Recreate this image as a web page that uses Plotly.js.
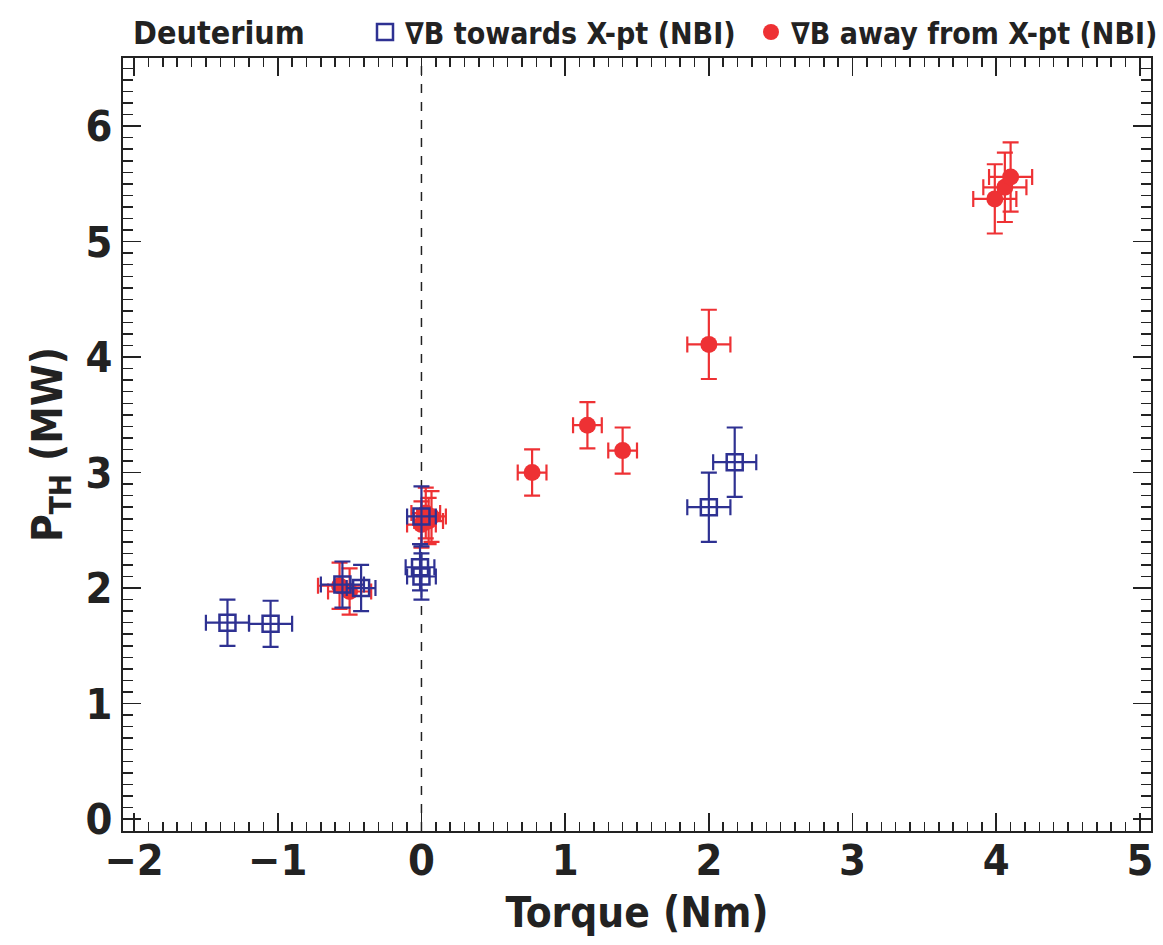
<!DOCTYPE html>
<html>
<head>
<meta charset="utf-8">
<script src="https://cdn.plot.ly/plotly-3.0.1.min.js"></script>
<style>html,body{margin:0;padding:0;background:#fff;}#chart{width:1163px;height:945px;}</style>
</head>
<body>
<div id="chart"></div>
<script>
// Data
const towardsName = "\u2207B towards X-pt (NBI)";
const towardsTorque = [-1.35, -1.05, -0.55, -0.42, 0.0, -0.01, 0.0, 2.0, 2.18];
const towardsTorqueErr = [0.15, 0.15, 0.15, 0.1, 0.1, 0.1, 0.1, 0.15, 0.15];
const towardsPth = [1.70, 1.69, 2.03, 2.0, 2.62, 2.18, 2.10, 2.70, 3.09];
const towardsPthErr = [0.2, 0.2, 0.2, 0.2, 0.26, 0.2, 0.2, 0.3, 0.3];

const awayName = "\u2207B away from X-pt (NBI)";
const awayTorque = [-0.57, -0.5, 0.0, 0.03, 0.05, 0.07, 0.77, 1.155, 1.40, 2.0, 3.99, 4.06, 4.10];
const awayTorqueErr = [0.15, 0.15, 0.1, 0.1, 0.1, 0.1, 0.1, 0.1, 0.1, 0.15, 0.15, 0.15, 0.15];
const awayPth = [2.02, 1.97, 2.55, 2.65, 2.58, 2.62, 3.0, 3.41, 3.19, 4.11, 5.37, 5.47, 5.56];
const awayPthErr = [0.2, 0.2, 0.2, 0.22, 0.2, 0.22, 0.2, 0.2, 0.2, 0.3, 0.3, 0.3, 0.3];

const xTitle = "Torque (Nm)";
const yTitle = "P<sub>TH</sub> (MW)";
const chartTitle = "Deuterium";

const BLUE = "#2e3192";
const RED = "#ee3134";
const FONT = "DejaVu Sans Condensed, Liberation Sans Narrow, sans-serif";

const xRange = [-2.077, 5.077];
const yRange = [-0.104, 6.59];

const traces = [
  {
    type: "scatter", mode: "markers", name: awayName, legend: "legend2",
    x: awayTorque, y: awayPth,
    error_x: {type: "data", array: awayTorqueErr, color: RED, thickness: 2.2, width: 8},
    error_y: {type: "data", array: awayPthErr, color: RED, thickness: 2.2, width: 8},
    marker: {symbol: "circle", size: 17, color: RED}
  },
  {
    type: "scatter", mode: "markers", name: towardsName, legend: "legend",
    x: towardsTorque, y: towardsPth,
    error_x: {type: "data", array: towardsTorqueErr, color: BLUE, thickness: 2.2, width: 8},
    error_y: {type: "data", array: towardsPthErr, color: BLUE, thickness: 2.2, width: 8},
    marker: {symbol: "square-open", size: 16, color: BLUE, line: {width: 2.5, color: BLUE}}
  }
];

const axisCommon = {
  showgrid: false, zeroline: false, showline: true, linecolor: "#222", linewidth: 2,
  ticks: "inside", tickcolor: "#222", tickwidth: 1.5, mirror: "ticks",
  tickfont: {family: FONT, size: 43, color: "#222", weight: "bold"}
};

const legendFont = {family: FONT, size: 30, color: "#222", weight: "bold"};

const layout = {
  width: 1163, height: 945,
  paper_bgcolor: "#fff", plot_bgcolor: "#fff",
  margin: {l: 123, r: 12, t: 58, b: 114, autoexpand: false},
  showlegend: true,
  title: {
    text: "<b>" + chartTitle + "</b>", xref: "container", yref: "container",
    x: 133 / 1163, xanchor: "left", y: 1 - 33 / 945, yanchor: "middle",
    font: {family: FONT, size: 32, color: "#222"}
  },
  legend: {
    x: (385 - 123 - 20) / 1028, xanchor: "left", y: (831 - 32) / 773, yanchor: "middle",
    orientation: "h", bgcolor: "rgba(0,0,0,0)", font: legendFont
  },
  legend2: {
    x: (771 - 123 - 20) / 1028, xanchor: "left", y: (831 - 32) / 773, yanchor: "middle",
    orientation: "h", bgcolor: "rgba(0,0,0,0)", font: legendFont
  },
  xaxis: Object.assign({}, axisCommon, {
    range: xRange, tick0: 0, dtick: 1, ticklen: 18, ticklabelstandoff: -10,
    minor: {dtick: 0.1, tick0: 0, ticklen: 9, ticks: "inside", tickcolor: "#222", tickwidth: 1.5},
    title: {text: "<b>" + xTitle + "</b>", font: {family: FONT, size: 42, color: "#222"}, standoff: 14}
  }),
  yaxis: Object.assign({}, axisCommon, {
    range: yRange, tick0: 0, dtick: 1, ticklen: 18,
    minor: {dtick: 0.1, tick0: 0, ticklen: 10, ticks: "inside", tickcolor: "#222", tickwidth: 1.5},
    title: {text: "<b>" + yTitle + "</b>", font: {family: FONT, size: 42, color: "#222"}, standoff: 10}
  }),
  xaxis2: {
    overlaying: "x", range: xRange, tick0: 0, dtick: 0.5, ticklen: 12, ticks: "inside",
    tickcolor: "#222", tickwidth: 1.5, mirror: "ticks", showticklabels: false,
    showgrid: false, zeroline: false, showline: false, side: "bottom"
  },
  yaxis2: {
    overlaying: "y", range: yRange, tick0: 0, dtick: 0.5, ticklen: 12, ticks: "inside",
    tickcolor: "#222", tickwidth: 1.5, mirror: "ticks", showticklabels: false,
    showgrid: false, zeroline: false, showline: false, side: "left"
  },
  shapes: [
    {type: "line", xref: "x", yref: "paper", x0: 0, x1: 0, y0: 0, y1: 1,
     line: {color: "#222", width: 1.5, dash: "dash"}, layer: "below"}
  ]
};

Plotly.newPlot("chart", traces, layout, {displayModeBar: false, staticPlot: true});
</script>
</body>
</html>
